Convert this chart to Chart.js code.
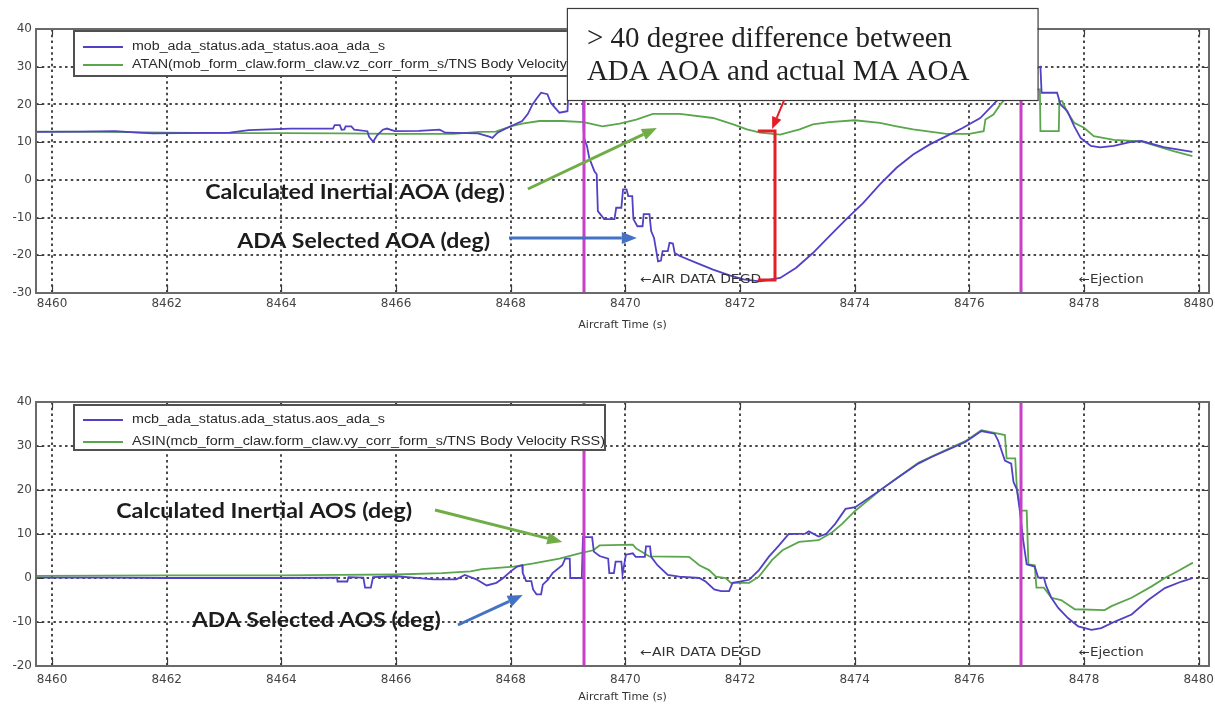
<!DOCTYPE html>
<html>
<head>
<meta charset="utf-8">
<script src="https://cdn.jsdelivr.net/npm/chart.js@4.4.1/dist/chart.umd.min.js"></script>
<style>
html,body{margin:0;padding:0;background:#fff;}
#wrap{position:relative;width:1215px;height:707px;overflow:hidden;background:#fff;}
#aoa{position:absolute;left:0;top:0;}
#aos{position:absolute;left:0;top:350px;}
</style>
</head>
<body>
<div id="wrap">
  <canvas id="aoa" width="1215" height="345"></canvas>
  <canvas id="aos" width="1215" height="357"></canvas>
</div>
<script>
// axis ticks
const timeTicks = [8460,8462,8464,8466,8468,8470,8472,8474,8476,8478,8480];
const aoaTicks = [-30,-20,-10,0,10,20,30,40];
const aosTicks = [-20,-10,0,10,20,30,40];

// event markers (magenta lines) and their labels
const eventTimes = [8469.27, 8476.9];
const eventLabels = ["\u2190AIR DATA DEGD", "\u2190Ejection"];
const eventLabelTimes = [8470.26, 8477.91];

// top panel: angle of attack (deg)
const aoaAdaLabel = "mob_ada_status.ada_status.aoa_ada_s";
const aoaInertialLabel = "ATAN(mob_form_claw.form_claw.vz_corr_form_s/TNS Body Velocity RSS)";
const timeAoaAda = [8459.72,8460.5,8461.1,8461.5,8461.76,8463.1,8463.43,8464.16,8464.9,8464.93,8465.02,8465.05,8465.1,8465.12,8465.22,8465.27,8465.5,8465.53,8465.6,8465.67,8465.77,8465.84,8465.98,8466.4,8466.76,8466.86,8467.43,8467.64,8467.68,8467.77,8467.9,8468.0,8468.2,8468.3,8468.38,8468.45,8468.53,8468.64,8468.7,8468.85,8468.99,8469.0,8469.14,8469.2,8469.26,8469.27,8469.28,8469.33,8469.37,8469.46,8469.5,8469.52,8469.63,8469.81,8469.84,8469.93,8469.96,8470.02,8470.05,8470.12,8470.14,8470.21,8470.3,8470.32,8470.42,8470.45,8470.5,8470.57,8470.62,8470.65,8470.74,8470.77,8470.83,8470.86,8470.95,8471.24,8471.53,8471.82,8472.06,8472.35,8472.7,8472.98,8473.27,8473.56,8473.85,8474.15,8474.44,8474.73,8475.02,8475.31,8475.6,8475.89,8476.19,8476.42,8476.59,8476.75,8476.9,8477.05,8477.24,8477.26,8477.53,8477.59,8477.71,8477.83,8477.94,8478.12,8478.28,8478.52,8478.8,8479.0,8479.39,8479.89];
const aoaAda = [12.7,12.8,12.9,12.5,12.3,12.5,13.2,13.6,13.6,14.5,14.5,13.3,13.4,14.2,14.2,13.3,12.9,11.4,10.1,11.8,13.3,13.6,12.9,13.0,13.3,12.5,12.3,11.4,11.1,12.5,13.5,14.2,15.6,17.5,20,21.5,23.1,22.7,20.4,17.8,18.2,21.4,22.7,25.5,26,14,11.1,9,5.8,2.3,1.5,-8.3,-10.4,-10.4,-7.4,-7.4,-2.5,-2.5,-4.3,-4.3,-10.4,-12.3,-12.3,-9.1,-9.1,-13.6,-15.4,-21.6,-21.4,-18.9,-18.9,-16.7,-16.9,-19.4,-20.2,-22,-23.8,-25.3,-26.4,-26.9,-26,-23.3,-19.4,-14.9,-10.5,-6.1,-1.2,3.2,6.7,9.4,11.6,13.8,16.4,20,22.7,25,27.5,29,30,23.1,23.1,20,18.2,14.2,11.1,9,8.6,9,10,10.3,8.7,7.4];
const timeAoaInertial = [8459.72,8461,8462,8463,8464,8465,8466,8467,8467.45,8467.74,8468,8468.2,8468.5,8468.9,8469.27,8469.6,8469.9,8470.19,8470.48,8470.95,8471.53,8471.88,8472.12,8472.35,8472.7,8473.04,8473.27,8473.56,8474,8474.44,8474.73,8475.02,8475.31,8475.6,8476.0,8476.25,8476.28,8476.42,8476.54,8476.65,8476.85,8477.05,8477.23,8477.24,8477.56,8477.57,8477.62,8477.7,8477.83,8478,8478.17,8478.52,8479,8479.2,8479.56,8479.89];
const aoaInertial = [12.8,12.7,12.5,12.4,12.4,12.3,12.2,12.2,12.7,12.8,14.2,14.9,15.6,15.6,15.3,14.2,14.9,16,17.5,17.5,16.4,14.7,13.4,12.5,12.0,13.4,14.7,15.3,15.8,15.1,14.2,13.4,12.8,12.2,12.2,12.9,16,17.3,20,21.8,23.5,24,24,12.9,12.9,20.9,20.9,18.2,15.1,13.8,11.6,10.6,10.2,9.3,7.6,6.3];

// bottom panel: angle of sideslip (deg)
const aosAdaLabel = "mcb_ada_status.ada_status.aos_ada_s";
const aosInertialLabel = "ASIN(mcb_form_claw.form_claw.vy_corr_form_s/TNS Body Velocity RSS)";
const timeAosAda = [8459.72,8461,8462,8463,8464,8464.97,8464.98,8465.15,8465.17,8465.43,8465.46,8465.56,8465.6,8466.0,8466.3,8466.65,8467.05,8467.2,8467.4,8467.58,8467.75,8467.87,8467.99,8468.1,8468.2,8468.21,8468.27,8468.36,8468.39,8468.45,8468.53,8468.56,8468.65,8468.73,8468.9,8468.95,8469.03,8469.04,8469.24,8469.26,8469.42,8469.45,8469.55,8469.7,8469.72,8469.8,8469.83,8469.93,8469.95,8470.01,8470.13,8470.18,8470.34,8470.36,8470.43,8470.45,8470.56,8470.74,8470.94,8471.29,8471.4,8471.55,8471.67,8471.81,8471.87,8472.04,8472.16,8472.33,8472.5,8472.68,8472.85,8473.14,8473.2,8473.37,8473.5,8473.66,8473.84,8474.01,8474.47,8474.76,8475.11,8475.34,8475.93,8476.21,8476.44,8476.5,8476.62,8476.73,8476.77,8476.83,8476.88,8476.94,8477.0,8477.14,8477.2,8477.3,8477.34,8477.43,8477.55,8477.72,8477.9,8478.13,8478.3,8478.54,8478.83,8479.12,8479.41,8479.7,8479.9];
const aosAda = [0.1,0.1,0,0,0,0.1,-0.8,-0.8,0.2,0.1,-2.2,-2.2,0.2,0.4,0.1,-0.3,-0.3,0.7,-0.3,-1.7,-1.1,0,1.4,2.5,2.9,1.1,-0.7,-0.7,-2.6,-3.7,-3.7,-1.5,-0.4,1.1,2.9,4.4,4.4,0,0,9.3,9.3,6,5,4.4,1.1,1.1,3.7,3.7,0.8,5.3,5.6,4.8,4.8,7.2,7.2,4.8,2.9,0.7,0.3,0,-0.8,-2.6,-3,-3,-1.1,-0.7,-0.4,1.8,4.8,7.4,10,10.1,10.6,9.4,10,12.3,15.7,16.1,20.2,22.9,26,27.5,30.9,33.4,32.8,31.3,26.7,26,21.8,20.1,15.3,8.5,3.1,2.6,0.1,0.1,-1.8,-4.5,-6.8,-9.1,-11,-11.8,-11.4,-9.9,-8.3,-5,-2.3,-0.8,0];
const timeAosInertial = [8459.72,8462,8464,8465,8466,8466.8,8467.3,8467.5,8468.05,8468.4,8468.85,8469.2,8469.44,8469.55,8470.13,8470.19,8470.42,8471.11,8471.29,8471.46,8471.58,8471.75,8471.84,8472.16,8472.33,8472.56,8472.74,8473.03,8473.37,8473.61,8473.78,8474.01,8474.47,8474.76,8475.11,8475.34,8475.93,8476.21,8476.44,8476.62,8476.65,8476.8,8476.83,8476.9,8477.0,8477.03,8477.14,8477.17,8477.3,8477.43,8477.6,8477.84,8478.36,8478.48,8478.83,8479.18,8479.41,8479.64,8479.9];
const aosInertial = [0.5,0.6,0.6,0.7,0.8,1.1,1.5,2,2.6,3.3,4.4,5.6,6.3,7.4,7.6,6.7,4.9,4.8,2.9,1.8,0.3,0,-1.1,-1.1,0.3,4.1,6.3,8.2,8.6,10.4,12.3,15.3,20.2,22.9,26.2,27.6,31.1,33.6,33,32.5,27.2,27.2,20.1,15.3,15.3,3.1,2.9,-2.2,-2.2,-4.5,-5,-7.1,-7.3,-6.4,-4.5,-1.9,0,1.6,3.5];

const ADA_COLOR = "#5041c6";
const INERTIAL_COLOR = "#5aa64c";

function pts(ts, vs) { return ts.map((t, i) => ({x: t, y: vs[i]})); }

function fitText(ctx, text, x, y, w) {
  const m = ctx.measureText(text).width;
  ctx.save();
  ctx.translate(x, y);
  ctx.scale(w / m, 1);
  ctx.fillText(text, 0, 0);
  ctx.restore();
}

function arrow(ctx, x1, y1, x2, y2, color, lw, hl, hw) {
  const a = Math.atan2(y2 - y1, x2 - x1);
  const bx = x2 - hl * Math.cos(a), by = y2 - hl * Math.sin(a);
  ctx.save();
  ctx.strokeStyle = color; ctx.fillStyle = color; ctx.lineWidth = lw;
  ctx.beginPath(); ctx.moveTo(x1, y1); ctx.lineTo(bx, by); ctx.stroke();
  ctx.beginPath(); ctx.moveTo(x2, y2);
  ctx.lineTo(bx + hw / 2 * Math.sin(a), by - hw / 2 * Math.cos(a));
  ctx.lineTo(bx - hw / 2 * Math.sin(a), by + hw / 2 * Math.cos(a));
  ctx.closePath(); ctx.fill();
  ctx.restore();
}

const overlay = {
  id: "overlay",
  afterDatasetsDraw(chart, args, o) {
    const {ctx, chartArea: a, scales: {x, y}} = chart;
    const px = t => x.getPixelForValue(t), py = v => y.getPixelForValue(v);
    ctx.save();
    // event lines
    ctx.strokeStyle = "#c83fc8"; ctx.lineWidth = 3;
    eventTimes.forEach(t => {
      const p = Math.round(px(t));
      ctx.beginPath(); ctx.moveTo(p, a.top); ctx.lineTo(p, a.bottom); ctx.stroke();
    });
    // frame and inward ticks
    ctx.strokeStyle = "#3a3a3a"; ctx.lineWidth = 1.2;
    timeTicks.forEach(t => {
      const p = Math.round(px(t)) + 0.5;
      ctx.beginPath(); ctx.moveTo(p, a.bottom); ctx.lineTo(p, a.bottom - 8);
      ctx.moveTo(p, a.top); ctx.lineTo(p, a.top + 6); ctx.stroke();
    });
    o.yTicks.forEach(v => {
      const p = Math.round(py(v)) + 0.5;
      ctx.beginPath(); ctx.moveTo(a.left, p); ctx.lineTo(a.left + 7, p);
      ctx.moveTo(a.right, p); ctx.lineTo(a.right - 7, p); ctx.stroke();
    });
    ctx.strokeStyle = "#6a6a6a"; ctx.lineWidth = 2;
    ctx.strokeRect(a.left, a.top, a.right - a.left, a.bottom - a.top);
    // event labels
    ctx.fillStyle = "#333"; ctx.textBaseline = "middle"; ctx.textAlign = "left";
    ctx.font = "12px 'DejaVu Sans'";
    eventLabels.forEach((s, i) => {
      const t = eventLabelTimes[i];
      fitText(ctx, s, px(t), py(o.eventLabelY), px(t + o.eventLabelW[i]) - px(t));
    });
    // legend
    const L = a.left + 38, T = a.top + o.legendDy;
    ctx.fillStyle = "#fff"; ctx.fillRect(L, T, 531, 45);
    ctx.strokeStyle = "#505050"; ctx.lineWidth = 2; ctx.strokeRect(L, T, 531, 45);
    ctx.font = "12px 'Liberation Sans'"; ctx.textBaseline = "middle";
    chart.data.datasets.forEach((ds, i) => {
      const ry = T + o.legendRows[i];
      ctx.strokeStyle = ds.borderColor; ctx.lineWidth = 2;
      ctx.beginPath(); ctx.moveTo(L + 9, ry); ctx.lineTo(L + 49, ry); ctx.stroke();
      ctx.fillStyle = "#2a2a2a";
      fitText(ctx, ds.label, L + 58, ry, o.legendWidths[i]);
    });
    // bold notes
    ctx.fillStyle = "#1c1c1c"; ctx.textBaseline = "alphabetic";
    ctx.font = "bold 21px Lato";
    o.notes.forEach(n => fitText(ctx, n.text, px(n.t), py(n.v), px(n.t + n.w) - px(n.t)));
    o.arrows.forEach(r => arrow(ctx, px(r.t1), py(r.v1), px(r.t2), py(r.v2), r.color, r.lw, r.hl, r.hw));
    // callout with bracket
    if (o.callout) {
      const c = o.callout;
      const bx = px(c.t1), by = py(c.v1), bw = px(c.t2) - bx, bh = py(c.v2) - by;
      ctx.fillStyle = "#fff"; ctx.fillRect(bx, by, bw, bh);
      ctx.strokeStyle = "#3c3c3c"; ctx.lineWidth = 1.2; ctx.strokeRect(bx + 0.5, by + 0.5, bw, bh);
      ctx.fillStyle = "#222"; ctx.font = "29px 'Liberation Serif'";
      c.lines.forEach((s, i) => ctx.fillText(s, bx + 20, by + 39 + i * 33));
      const k = c.bracket;
      ctx.strokeStyle = "#e41e24"; ctx.lineWidth = 3; ctx.lineJoin = "miter";
      ctx.beginPath();
      ctx.moveTo(px(k.t1), py(k.top)); ctx.lineTo(px(k.t2), py(k.top));
      ctx.lineTo(px(k.t2), py(k.bottom)); ctx.lineTo(px(k.t1), py(k.bottom));
      ctx.stroke();
      const r = c.pointer;
      arrow(ctx, px(r.t1), py(r.v1), px(r.t2), py(r.v2), "#e41e24", 2, 12, 10);
    }
    ctx.restore();
  }
};

function buildPanel(id, cfg) {
  return new Chart(document.getElementById(id), {
    type: "line",
    data: {
      datasets: [
        {label: cfg.labels[0], data: pts(cfg.series[0], cfg.series[1]), borderColor: ADA_COLOR,
         borderWidth: 1.8, pointRadius: 0, tension: 0, fill: false},
        {label: cfg.labels[1], data: pts(cfg.series[2], cfg.series[3]), borderColor: INERTIAL_COLOR,
         borderWidth: 1.8, pointRadius: 0, tension: 0, fill: false},
      ],
    },
    options: {
      responsive: false, animation: false, events: [],
      layout: {padding: {top: cfg.padTop, right: 6, left: 0, bottom: 0}},
      plugins: {legend: {display: false}, tooltip: {enabled: false}, overlay: cfg.overlay},
      scales: {
        x: {
          type: "linear", min: 8459.72, max: 8480.18,
          afterBuildTicks: s => { s.ticks = timeTicks.map(v => ({value: v})); },
          ticks: {callback: v => String(v), color: "#444", padding: cfg.tickPad, font: {size: 12}, maxRotation: 0, autoSkip: false},
          grid: {color: "#4a4a4a", lineWidth: 2, drawTicks: false},
          border: {display: false, dash: [2.5, 3.3]},
          title: {display: true, text: "Aircraft Time (s)", color: "#333", font: {size: 11}, padding: {top: 0, bottom: cfg.titlePad}},
          afterFit: s => { s.height = cfg.xHeight; s.paddingLeft = 0; s.paddingRight = 0; },
        },
        y: {
          min: cfg.yTicks[0], max: cfg.yTicks[cfg.yTicks.length - 1],
          afterBuildTicks: s => { s.ticks = cfg.yTicks.map(v => ({value: v})); },
          ticks: {color: "#444", padding: 4, font: {size: 12}},
          grid: {color: "#4a4a4a", lineWidth: 2, drawTicks: false},
          border: {display: false, dash: [2.5, 3.3]},
          afterFit: s => { s.width = 36; s.paddingTop = 0; s.paddingBottom = 0; },
        },
      },
    },
    plugins: [overlay],
  });
}

Chart.defaults.font.family = "'DejaVu Sans'";

buildPanel("aoa", {
  labels: [aoaAdaLabel, aoaInertialLabel],
  series: [timeAoaAda, aoaAda, timeAoaInertial, aoaInertial],
  yTicks: aoaTicks, padTop: 29, xHeight: 52, tickPad: 4, titlePad: 13,
  overlay: {
    yTicks: aoaTicks, eventLabelY: -26.56, eventLabelW: [2.11, 1.13],
    legendDy: 2, legendRows: [16, 34], legendWidths: [253, 473],
    notes: [
      {text: "Calculated Inertial AOA (deg)", t: 8462.67, v: -5.08, w: 5.23},
      {text: "ADA Selected AOA (deg)", t: 8463.23, v: -18.07, w: 4.41},
    ],
    arrows: [
      {t1: 8468.30, v1: -2.42, t2: 8470.55, v2: 13.75, color: "#70ad47", lw: 3, hl: 15, hw: 12},
      {t1: 8467.97, v1: -15.42, t2: 8470.20, v2: -15.42, color: "#4472c4", lw: 3, hl: 15, hw: 12},
    ],
    callout: {
      t1: 8468.98, v1: 45.57, t2: 8477.19, v2: 21.17,
      lines: ["> 40 degree difference between", "ADA AOA and actual MA AOA"],
      bracket: {t1: 8472.31, t2: 8472.61, top: 12.95, bottom: -26.56},
      pointer: {t1: 8472.77, v1: 21.17, t2: 8472.56, v2: 13.48},
    },
  },
});

buildPanel("aos", {
  labels: [aosAdaLabel, aosInertialLabel],
  series: [timeAosAda, aosAda, timeAosInertial, aosInertial],
  yTicks: aosTicks, padTop: 52, xHeight: 41, tickPad: 7, titlePad: 3,
  overlay: {
    yTicks: aosTicks, eventLabelY: -17.05, eventLabelW: [2.11, 1.13],
    legendDy: 3, legendRows: [15, 37], legendWidths: [253, 473],
    notes: [
      {text: "Calculated Inertial AOS (deg)", t: 8461.12, v: 13.64, w: 5.16},
      {text: "ADA Selected AOS (deg)", t: 8462.44, v: -11.14, w: 4.34},
    ],
    arrows: [
      {t1: 8466.68, v1: 15.45, t2: 8468.90, v2: 8.18, color: "#70ad47", lw: 3, hl: 15, hw: 12},
      {t1: 8467.08, v1: -10.68, t2: 8468.21, v2: -3.86, color: "#4472c4", lw: 3, hl: 15, hw: 12},
    ],
    callout: null,
  },
});
</script>
</body>
</html>
